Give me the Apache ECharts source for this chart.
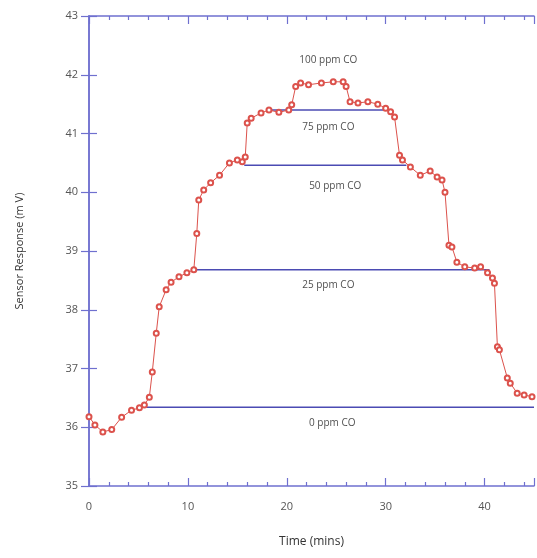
<!DOCTYPE html>
<html>
<head>
<meta charset="utf-8">
<script src="https://cdn.jsdelivr.net/npm/echarts@6/dist/echarts.min.js"></script>
<style>
  html, body { margin: 0; padding: 0; background: #fff; }
  #chart { width: 537px; height: 558px; }
</style>
</head>
<body>
<div id="chart"></div>
<script>
// sensor trace: [time (mins), response (mV)]
const responseTrace = [
  [0, 36.18], [0.6, 36.04], [1.4, 35.92], [2.3, 35.96], [3.3, 36.17], [4.3, 36.29],
  [5.1, 36.33], [5.6, 36.38], [6.1, 36.51], [6.4, 36.94], [6.8, 37.6], [7.1, 38.05],
  [7.8, 38.34], [8.3, 38.47], [9.1, 38.56], [9.9, 38.63], [10.6, 38.68],
  [10.9, 39.3], [11.1, 39.87], [11.6, 40.04], [12.3, 40.16], [13.2, 40.29],
  [14.2, 40.5], [15.0, 40.55], [15.5, 40.52], [15.8, 40.6], [16.0, 41.18],
  [16.4, 41.26], [17.4, 41.35], [18.2, 41.4], [19.2, 41.36], [20.2, 41.4],
  [20.5, 41.49], [20.9, 41.8], [21.4, 41.86], [22.2, 41.83], [23.5, 41.86],
  [24.7, 41.88], [25.7, 41.88], [26.0, 41.8], [26.4, 41.54], [27.2, 41.52],
  [28.2, 41.54], [29.2, 41.5], [30.0, 41.43], [30.5, 41.37], [30.9, 41.28],
  [31.4, 40.63], [31.7, 40.55], [32.5, 40.43], [33.5, 40.29], [34.5, 40.36],
  [35.2, 40.26], [35.7, 40.21], [36.0, 40.0], [36.4, 39.1], [36.7, 39.07],
  [37.2, 38.81], [38.0, 38.73], [39.0, 38.71], [39.6, 38.73], [40.3, 38.63],
  [40.8, 38.54], [41.0, 38.45], [41.3, 37.37], [41.5, 37.32], [42.3, 36.84],
  [42.6, 36.75], [43.3, 36.58], [44.0, 36.55], [44.8, 36.52]
]

// baseline levels for each CO concentration: [start, end, level]
const levelNames = ['0 ppm CO', '25 ppm CO', '50 ppm CO', '75 ppm CO']
const levelLines = [
  [5.8, 45, 36.34],
  [10.8, 40.5, 38.68],
  [15.7, 32.1, 40.46],
  [18.2, 30.7, 41.4]
]

// annotation text and where it sits: [time, response]
const labelTexts = ['100 ppm CO', '75 ppm CO', '50 ppm CO', '25 ppm CO', '0 ppm CO']
const labelSpots = [[24.2, 42.25], [24.2, 41.11], [24.9, 40.1], [24.2, 38.42], [24.6, 36.07]]

const xTicks = [0, 10, 20, 30, 40]
const yTicks = [35, 36, 37, 38, 39, 40, 41, 42, 43]

const axisBlue = '#6f70cf'
const lineBlue = '#4b4bb3'
const traceRed = '#dc524c'
const font = 'Open Sans'

const myChart = echarts.init(document.getElementById('chart'))

let levelSeries = levelLines.map((item, i) => {
  return {
    name: levelNames[i],
    type: 'line',
    xAxisIndex: 0,
    yAxisIndex: 0,
    symbol: 'none',
    silent: true,
    lineStyle: { color: lineBlue, width: 1.5 },
    data: [[item[0], item[2]], [item[1], item[2]]],
    z: 2
  }
})

let tickAxisBase = {
  axisLine: { show: true, lineStyle: { color: axisBlue, width: 1.5 } },
  splitLine: { show: false }
}

const chartOption = {
  animation: false,
  backgroundColor: '#fff',
  grid: {
    left: 89,
    top: 16,
    width: 448,
    height: 470
  },
  xAxis: [
    {
      ...tickAxisBase,
      type: 'value',
      position: 'bottom',
      min: 0,
      max: 45,
      interval: 10,
      axisTick: { show: true, inside: true, length: 8, lineStyle: { color: axisBlue, width: 1.2 } },
      minorTick: { show: true, splitNumber: 5, length: 4, lineStyle: { color: axisBlue, width: 1.2 } },
      axisLabel: {
        color: '#555',
        fontSize: 11,
        fontFamily: font,
        margin: 15,
        formatter: (v) => (xTicks.includes(v) ? String(v) : '')
      },
      name: 'Time (mins)',
      nameLocation: 'middle',
      nameGap: 50,
      nameTextStyle: { color: '#333', fontSize: 12, fontFamily: font }
    },
    {
      ...tickAxisBase,
      type: 'value',
      position: 'top',
      min: 0,
      max: 45,
      interval: 10,
      axisTick: { show: true, inside: true, length: 8, lineStyle: { color: axisBlue, width: 1.2 } },
      minorTick: { show: true, splitNumber: 5, length: 4, lineStyle: { color: axisBlue, width: 1.2 } },
      axisLabel: { show: false }
    }
  ],
  yAxis: [
    {
      ...tickAxisBase,
      type: 'value',
      position: 'left',
      min: 35,
      max: 43,
      interval: 1,
      axisTick: { show: true, inside: true, length: 8, lineStyle: { color: axisBlue, width: 1.2 } },
      axisLabel: {
        color: '#555',
        fontSize: 11,
        fontFamily: font,
        margin: 11,
        formatter: (v) => (yTicks.includes(v) ? String(v) : '')
      },
      name: 'Sensor Response (m V)',
      nameLocation: 'middle',
      nameGap: 64,
      nameTextStyle: { color: '#333', fontSize: 11, fontFamily: font }
    },
    {
      ...tickAxisBase,
      type: 'value',
      position: 'right',
      min: 35,
      max: 43,
      interval: 1,
      axisTick: { show: true, inside: true, length: 8, lineStyle: { color: axisBlue, width: 1.2 } },
      axisLabel: { show: false }
    }
  ],
  series: [
    ...levelSeries,
    {
      name: 'Sensor Response',
      type: 'line',
      xAxisIndex: 0,
      yAxisIndex: 0,
      symbol: 'emptyCircle',
      symbolSize: 5,
      showAllSymbol: true,
      itemStyle: { color: traceRed, borderWidth: 0.9 },
      lineStyle: { color: traceRed, width: 1 },
      data: responseTrace,
      z: 3
    },
    {
      name: 'labels',
      type: 'scatter',
      xAxisIndex: 0,
      yAxisIndex: 0,
      symbolSize: 0,
      silent: true,
      label: {
        show: true,
        position: 'inside',
        color: '#222',
        fontSize: 10,
        fontFamily: font,
        formatter: (p) => labelTexts[p.dataIndex]
      },
      data: labelSpots,
      z: 4
    }
  ]
}

myChart.setOption(chartOption, true)
</script>
</body>
</html>
